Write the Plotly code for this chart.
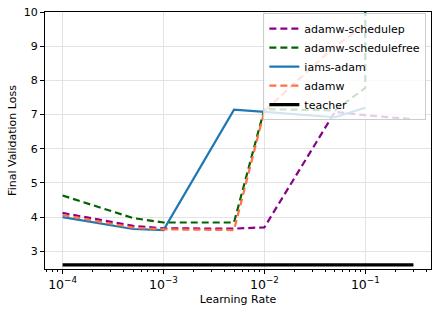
import plotly.graph_objects as go

schedulep_lr = [1e-4, 5e-4, 1e-3, 5e-3, 1e-2, 5e-2, 1e-1, 3e-1]
schedulep = [4.12, 3.74, 3.67, 3.66, 3.70, 7.08, 6.98, 6.86]

schedulefree_lr = [1e-4, 5e-4, 1e-3, 5e-3, 1e-2, 5e-2, 1e-1, 1.01e-1]
schedulefree = [4.63, 3.97, 3.84, 3.84, 7.16, 7.12, 7.78, 500.0]

iams_lr = [1e-4, 5e-4, 1e-3, 5e-3, 1e-2, 5e-2, 1e-1]
iams = [4.00, 3.65, 3.62, 7.14, 7.08, 6.92, 7.20]

adamw_lr = [1e-4, 5e-4, 1e-3, 5e-3, 1e-2, 5e-2, 1e-1]
adamw = [4.06, 3.69, 3.64, 3.62, 7.10, 9.0, 9.6]

teacher_lr = [1e-4, 3e-1]
teacher = [2.6, 2.6]

FONT = "DejaVu Sans"

fig = go.Figure()
fig.add_trace(go.Scatter(x=schedulep_lr, y=schedulep, mode="lines", name="adamw-schedulep",
                         line=dict(color="#880088", width=2.2, dash="7px,4px")))
fig.add_trace(go.Scatter(x=schedulefree_lr, y=schedulefree, mode="lines", name="adamw-schedulefree",
                         line=dict(color="#006400", width=2.2, dash="7px,4px")))
fig.add_trace(go.Scatter(x=iams_lr, y=iams, mode="lines", name="iams-adam",
                         line=dict(color="#1f77b4", width=2.2)))
fig.add_trace(go.Scatter(x=adamw_lr, y=adamw, mode="lines", name="adamw",
                         line=dict(color="#ff7043", width=2.2, dash="7px,4px")))
fig.add_trace(go.Scatter(x=teacher_lr, y=teacher, mode="lines", name="teacher",
                         line=dict(color="black", width=3.2)))

fig.update_layout(
    width=439, height=313,
    margin=dict(l=45, r=8, t=12, b=44, autoexpand=False),
    paper_bgcolor="white", plot_bgcolor="white",
    font=dict(family=FONT, size=11, color="black"),
    legend=dict(x=0.988, y=0.996, xanchor="right", yanchor="top",
                bgcolor="rgba(255,255,255,0.8)", bordercolor="#cccccc", borderwidth=1,
                font=dict(size=11), tracegroupgap=0, itemwidth=30),
    showlegend=True,
)
fig.update_xaxes(
    type="log", range=[-4.174, -0.349], dtick=1, exponentformat="power",
    showline=True, linecolor="black", linewidth=1, mirror=True,
    ticks="outside", ticklen=4, tickcolor="black",
    showgrid=True, gridcolor="#e3e3e3", gridwidth=0.8,
    minor=dict(ticks="outside", ticklen=2, tickcolor="black", showgrid=False),
    title=dict(text="Learning Rate", font=dict(size=11), standoff=4),
    tickfont=dict(size=10), zeroline=False, automargin=False,
)
fig.update_yaxes(
    range=[2.48, 10], dtick=1, tick0=0,
    showline=True, linecolor="black", linewidth=1, mirror=True,
    ticks="outside", ticklen=4, tickcolor="black",
    showgrid=True, gridcolor="#e3e3e3", gridwidth=0.8,
    title=dict(text="Final Validation Loss", font=dict(size=11), standoff=4),
    tickfont=dict(size=11), zeroline=False, automargin=False,
)

fig.write_html("out.html", config={"displayModeBar": False},
               post_script="document.body.style.margin='0';document.body.style.overflow='hidden';")
